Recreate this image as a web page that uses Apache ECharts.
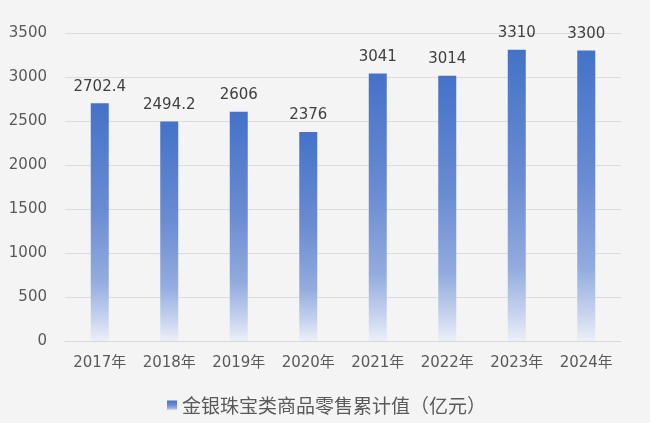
<!DOCTYPE html>
<html><head><meta charset="utf-8">
<script src="https://cdn.jsdelivr.net/npm/echarts@6/dist/echarts.min.js"></script>
<style>html,body{margin:0;padding:0;background:#f4f4f4}#c{width:650px;height:423px}</style>
</head><body><div id="c"></div>
<script>
const categories = ['2017年','2018年','2019年','2020年','2021年','2022年','2023年','2024年'];
const values = [2702.4, 2494.2, 2606, 2376, 3041, 3014, 3310, 3300];
const labels = ['2702.4','2494.2','2606','2376','3041','3014','3310','3300'];
const seriesName = '金银珠宝类商品零售累计值（亿元）';

const chart = echarts.init(document.getElementById('c'));
const font = '"DejaVu Sans", "Noto Sans CJK SC", sans-serif';
const cjk = '"Noto Sans CJK SC", sans-serif';
chart.setOption({
  backgroundColor: '#f4f4f4',
  animation: false,
  grid: {left: 65, right: 29, top: 33, bottom: 82},
  legend: {
    data: [seriesName], top: 391, left: 162,
    icon: 'rect', itemWidth: 10, itemHeight: 10, itemGap: 4,
    textStyle: {fontFamily: cjk, fontSize: 19, color: '#595959'}
  },
  xAxis: {
    type: 'category', data: categories,
    axisLine: {lineStyle: {color: '#d9d9d9'}},
    axisTick: {show: false},
    axisLabel: {fontFamily: font, fontSize: 15, color: '#595959', margin: 15}
  },
  yAxis: {
    type: 'value', min: 0, max: 3500, interval: 500,
    axisLine: {show: false}, axisTick: {show: false},
    splitLine: {lineStyle: {color: '#dcdcdc'}},
    axisLabel: {fontFamily: font, fontSize: 15, color: '#595959', margin: 18, formatter: v => String(v)}
  },
  series: [{
    name: seriesName, type: 'bar', data: values, barWidth: 18,
    itemStyle: {color: new echarts.graphic.LinearGradient(0,0,0,1,[
      {offset:0, color:'#4472c8'},
      {offset:0.45, color:'#6a8cd2'},
      {offset:0.75, color:'#93acdf'},
      {offset:0.9, color:'#c5d2ee'},
      {offset:1, color:'#eceff7'}
    ])},
    label: {show: true, position: 'top', distance: 9, fontFamily: font, fontSize: 15, color: '#404040',
      formatter: p => labels[p.dataIndex]}
  }]
});
</script></body></html>
